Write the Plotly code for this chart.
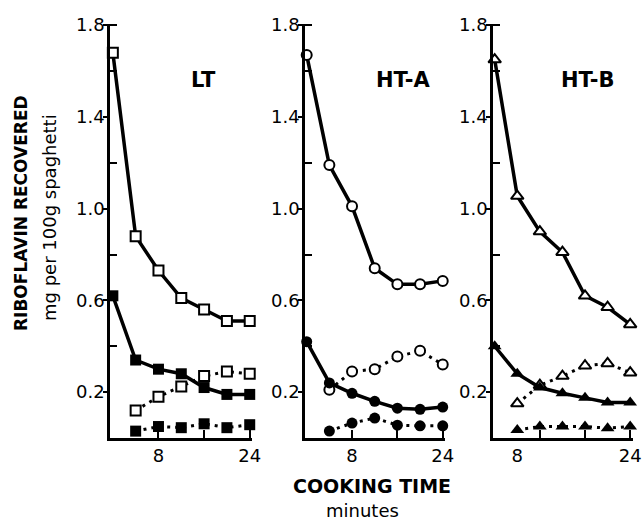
import plotly.graph_objects as go

# ---- data ----
times = [0, 4, 8, 12, 16, 20, 24]
times_cw = [4, 8, 12, 16, 20, 24]   # cooking-water series start at 4 min

panels = ["LT", "HT-A", "HT-B"]

lt_open_solid = [1.68, 0.88, 0.73, 0.61, 0.56, 0.51, 0.51]
lt_fill_solid = [0.62, 0.34, 0.30, 0.28, 0.22, 0.19, 0.19]
lt_open_dot = [0.12, 0.18, 0.225, 0.27, 0.29, 0.28]
lt_fill_dot = [0.03, 0.05, 0.045, 0.062, 0.045, 0.058]

hta_open_solid = [1.67, 1.19, 1.01, 0.74, 0.67, 0.67, 0.685]
hta_fill_solid = [0.42, 0.24, 0.195, 0.16, 0.13, 0.125, 0.135]
hta_open_dot = [0.21, 0.29, 0.30, 0.355, 0.38, 0.32]
hta_fill_dot = [0.03, 0.065, 0.087, 0.056, 0.053, 0.053]

htb_open_solid = [1.65, 1.055, 0.90, 0.81, 0.62, 0.57, 0.495]
htb_fill_solid = [0.40, 0.28, 0.22, 0.195, 0.175, 0.155, 0.155]
htb_open_dot = [0.15, 0.23, 0.27, 0.315, 0.325, 0.285]
htb_fill_dot = [0.035, 0.05, 0.05, 0.05, 0.043, 0.05]

y_major = [0.2, 0.6, 1.0, 1.4, 1.8]
y_major_text = ["0.2", "0.6", "1.0", "1.4", "1.8"]
y_minor = [0.4, 0.8, 1.2, 1.6, 1.8]
x_marks = [8, 16, 24]
x_label_vals = {"LT": [8, 24], "HT-A": [8, 24], "HT-B": [4, 24]}
x_label_text = ["8", "24"]

# ---- figure ----
W, H = 644, 520
FONT = "DejaVu Sans"
fig = go.Figure()

data = {
    "LT": ("square", lt_open_solid, lt_fill_solid, lt_open_dot, lt_fill_dot),
    "HT-A": ("circle", hta_open_solid, hta_fill_solid, hta_open_dot, hta_fill_dot),
    "HT-B": ("triangle-up", htb_open_solid, htb_fill_solid, htb_open_dot, htb_fill_dot),
}
xdom = {"LT": [110, 252], "HT-A": [305, 445], "HT-B": [493, 633]}
ydom = [1 - 438 / H, 1 - 24 / H]
xr = {"LT": [-0.5, 24.4], "HT-A": [-0.3, 24.4], "HT-B": [-0.3, 24.5]}

for i, p in enumerate(panels, start=1):
    sym, os_, fs_, od_, fd_ = data[p]
    xa = "x" if i == 1 else f"x{i}"
    ya = "y" if i == 1 else f"y{i}"
    msize = 10 if sym != "triangle-up" else 11
    fig.add_trace(go.Scatter(x=times_cw, y=od_, mode="lines+markers", xaxis=xa, yaxis=ya,
                             line=dict(color="black", width=3, dash="3px,5px"),
                             marker=dict(symbol=sym, size=msize, color="white",
                                         line=dict(color="black", width=2)),
                             showlegend=False, cliponaxis=False))
    fig.add_trace(go.Scatter(x=times_cw, y=fd_, mode="lines+markers", xaxis=xa, yaxis=ya,
                             line=dict(color="black", width=3, dash="3px,5px"),
                             marker=dict(symbol=sym, size=msize + 1, color="black"),
                             showlegend=False, cliponaxis=False))
    fig.add_trace(go.Scatter(x=times, y=fs_, mode="lines+markers", xaxis=xa, yaxis=ya,
                             line=dict(color="black", width=3.5),
                             marker=dict(symbol=sym, size=msize + 1, color="black"),
                             showlegend=False, cliponaxis=False))
    fig.add_trace(go.Scatter(x=times, y=os_, mode="lines+markers", xaxis=xa, yaxis=ya,
                             line=dict(color="black", width=3.5),
                             marker=dict(symbol=sym, size=msize, color="white",
                                         line=dict(color="black", width=2)),
                             showlegend=False, cliponaxis=False))

    xkey = "xaxis" if i == 1 else f"xaxis{i}"
    ykey = "yaxis" if i == 1 else f"yaxis{i}"
    fig.update_layout(**{
        xkey: dict(domain=[xdom[p][0] / W, xdom[p][1] / W], range=xr[p], anchor=ya,
                   showline=True, linecolor="black", linewidth=2.5, showgrid=False,
                   zeroline=False, tickmode="array", tickvals=x_label_vals[p],
                   ticktext=x_label_text, ticks="", automargin=False,
                   tickfont=dict(family=FONT, size=18, color="black"),
                   minor=dict(tickmode="array", tickvals=x_marks, ticks="inside",
                              ticklen=8, tickwidth=2, tickcolor="black")),
        ykey: dict(domain=ydom, range=[0, 1.805], anchor=xa, automargin=False,
                   showline=True, linecolor="black", linewidth=2.5, showgrid=False,
                   zeroline=False, tickmode="array", tickvals=y_major, ticktext=y_major_text,
                   ticks="outside", ticklen=4, tickwidth=2, tickcolor="black",
                   ticklabelstandoff=-5,
                   tickfont=dict(family=FONT, size=18, color="black"),
                   minor=dict(tickmode="array", tickvals=y_minor, ticks="inside",
                              ticklen=7, tickwidth=2, tickcolor="black")),
    })

# panel labels
label_pos = {"LT": 203, "HT-A": 403, "HT-B": 588}
for p in panels:
    fig.add_annotation(x=label_pos[p] / W, y=1 - 80 / H, xref="paper", yref="paper",
                       text=f"<b>{p}</b>", showarrow=False, xanchor="center", yanchor="middle",
                       font=dict(family=FONT, size=21, color="black"))

# axis titles
fig.add_annotation(x=21 / W, y=1 - 213 / H, xref="paper", yref="paper",
                   text="<b>RIBOFLAVIN RECOVERED</b>", showarrow=False, textangle=-90,
                   xanchor="center", yanchor="middle",
                   font=dict(family=FONT, size=17, color="black"))
fig.add_annotation(x=49 / W, y=1 - 218 / H, xref="paper", yref="paper",
                   text="mg per 100g spaghetti", showarrow=False, textangle=-90,
                   xanchor="center", yanchor="middle",
                   font=dict(family=FONT, size=18, color="black"))
fig.add_annotation(x=372 / W, y=1 - 486 / H, xref="paper", yref="paper",
                   text="<b>COOKING TIME</b>", showarrow=False,
                   xanchor="center", yanchor="middle",
                   font=dict(family=FONT, size=19, color="black"))
fig.add_annotation(x=362 / W, y=1 - 510 / H, xref="paper", yref="paper",
                   text="minutes", showarrow=False,
                   xanchor="center", yanchor="middle",
                   font=dict(family=FONT, size=18, color="black"))

fig.update_layout(width=W, height=H, margin=dict(l=0, r=0, t=0, b=0, autoexpand=False),
                  paper_bgcolor="white", plot_bgcolor="white", showlegend=False)

fig.write_html("out.html", config={"responsive": False, "displayModeBar": False},
               post_script="document.body.style.margin='0';document.body.style.overflow='hidden';")
